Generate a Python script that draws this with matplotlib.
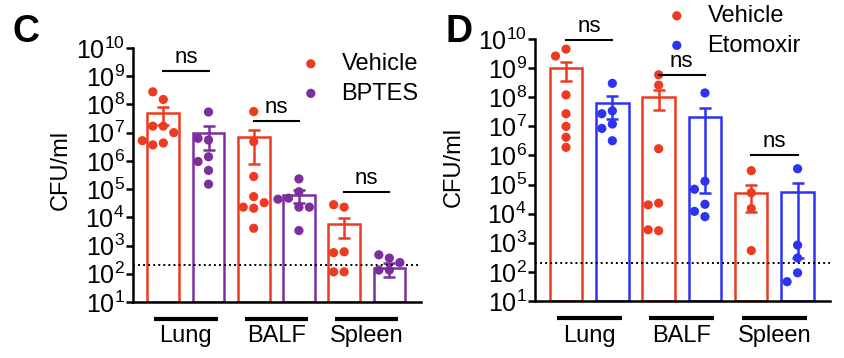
import numpy as np
import matplotlib
matplotlib.use('Agg')
import matplotlib.pyplot as plt
import matplotlib.transforms as mtransforms

plt.rcParams['font.family'] = ['Liberation Sans', 'DejaVu Sans']
plt.rcParams['mathtext.default'] = 'regular'

# ---- data (CFU/ml) ----
groups = ['Lung', 'BALF', 'Spleen']
detection_limit = 200

# panel C: Vehicle vs BPTES
c_vehicle_mean = [5.0e7, 6.8e6, 5.6e3]
c_vehicle_sem = [3.1e7, 6.0e6, 3.8e3]
c_bptes_mean = [1.0e7, 6.3e4, 155]
c_bptes_sem = [7.5e6, 3.2e4, 80]
c_vehicle_pts = [
    [1.5e8, 2.8e8, 1.7e7, 1.7e7, 1.0e7, 4.3e6, 3.7e6, 5.2e6],
    [5.6e7, 4.8e6, 2.8e5, 5.4e4, 2.1e4, 2.3e4, 3.3e4, 4.1e3],
    [2.3e4, 2.8e4, 600, 560, 117, 117],
]
c_bptes_pts = [
    [5.4e7, 5.5e6, 6.3e6, 1.4e6, 9.5e5, 4.6e5, 1.5e5],
    [2.3e5, 8.1e4, 4.8e4, 2.3e4, 2.3e4, 4.4e4, 3.4e3],
    [360, 470, 250, 135, 135],
]
c_ns_level = [1.5e9, 2.6e7, 8.0e4]

# panel D: Vehicle vs Etomoxir
d_vehicle_mean = [1.0e9, 1.05e8, 5.3e4]
d_vehicle_sem = [6.4e8, 7.0e7, 4.2e4]
d_etomoxir_mean = [6.3e7, 2.15e7, 5.6e4]
d_etomoxir_sem = [4.5e7, 2.145e7, 5.57e4]
d_vehicle_pts = [
    [4.5e9, 2.6e9, 1.2e8, 2.7e7, 1.0e7, 4.2e6, 1.9e6],
    [5.9e8, 2.6e8, 1.7e6, 2.3e4, 2.0e4, 2.6e3, 2.8e3],
    [3.0e5, 5.2e4, 1.5e4, 540],
]
d_etomoxir_pts = [
    [3.0e8, 3.4e7, 2.7e7, 1.2e7, 8.5e6, 3.2e6],
    [1.4e8, 1.3e5, 6.9e4, 2.1e4, 1.2e4, 7.9e3],
    [3.5e5, 830, 300, 93, 46],
]
d_ns_level = [9.3e9, 5.9e8, 1.05e6]

RED = '#EF3A22'
PURPLE = '#7D2E9E'
BLUE = '#2C33F2'

fig = plt.figure(figsize=(8.44, 3.58), dpi=100)


def swarm_x(ax, x0, vals, diam):
    # simple beeswarm: spread overlapping dots sideways (pixel space)
    pix = ax.transData.transform(np.column_stack([np.full(len(vals), x0), vals]))
    xc = pix[0, 0]
    placed = []
    for y in pix[:, 1]:
        for k in [0, -1, 1, -2, 2, -3, 3]:
            x = xc + k * diam
            if all((x - px) ** 2 + (y - py) ** 2 >= (diam * 0.9) ** 2 for px, py in placed):
                break
        placed.append((x, y))
    back = ax.transData.inverted().transform(np.array(placed))
    return back[:, 0]


def panel(rect, mean_a, sem_a, pts_a, col_a, lab_a,
          mean_b, sem_b, pts_b, col_b, lab_b, ns_level, leg_anchor):
    ax = fig.add_axes(rect)
    ax.set_yscale('log')
    ax.set_ylim(10, 1e10)
    ax.set_xlim(-0.67, 5.7)
    pos_a = np.arange(3) * 2
    pos_b = pos_a + 1
    w = 0.7
    for pos, mean, sem, col in [(pos_a, mean_a, sem_a, col_a), (pos_b, mean_b, sem_b, col_b)]:
        mean = np.array(mean)
        ax.bar(pos, mean - 10, bottom=10, width=w, facecolor='white',
               edgecolor=col, linewidth=1.8, zorder=2)
        ax.errorbar(pos, mean, yerr=np.array(sem), fmt='none', ecolor=col,
                    elinewidth=1.8, capsize=4.5, capthick=1.8, zorder=3)
    for pos, pts, col, lab in [(pos_a, pts_a, col_a, lab_a), (pos_b, pts_b, col_b, lab_b)]:
        for i in range(3):
            xs = swarm_x(ax, pos[i], pts[i], 10.5)
            ax.scatter(xs, pts[i], s=44, color=col, edgecolors='none', zorder=4,
                       clip_on=False, label=lab if i == 0 else None)
    ax.axhline(detection_limit, color='black', ls=(0, (1, 1.6)), lw=1.4, zorder=3.5)

    for s in ['top', 'right']:
        ax.spines[s].set_visible(False)
    for s in ['left', 'bottom']:
        ax.spines[s].set_linewidth(1.8)
    ax.set_yticks([10.0 ** k for k in range(1, 11)])
    ax.yaxis.set_minor_locator(matplotlib.ticker.NullLocator())
    ax.yaxis.set_major_formatter(matplotlib.ticker.FuncFormatter(
        lambda v, p: '$10^{%d}$' % round(np.log10(v))))
    ax.tick_params(axis='y', labelsize=18, width=1.8, length=5, pad=1)
    ax.set_xticks([])
    ax.set_ylabel('CFU/ml', fontsize=17)

    # significance brackets
    for i in range(3):
        ax.plot([pos_a[i], pos_b[i]], [ns_level[i]] * 2, color='black', lw=1.5,
                clip_on=False, zorder=5)
        ax.annotate('ns', ((pos_a[i] + pos_b[i]) / 2, ns_level[i]), xytext=(0, 2),
                    textcoords='offset points', ha='center', va='bottom',
                    fontsize=16, annotation_clip=False)

    # group labels under the axis
    tr = mtransforms.blended_transform_factory(ax.transData, ax.transAxes)
    for i, g in enumerate(groups):
        ax.plot([pos_a[i] - 0.2, pos_b[i] + 0.2], [-0.066, -0.066], color='black',
                lw=3, transform=tr, clip_on=False, solid_capstyle='butt')
        ax.text((pos_a[i] + pos_b[i]) / 2, -0.135, g, transform=tr, ha='center',
                va='center', fontsize=17)

    ax.legend(loc='upper left', bbox_to_anchor=leg_anchor,
              bbox_transform=fig.transFigure, frameon=False, fontsize=17,
              handlelength=1.0, handletextpad=0.8, labelspacing=0.32,
              borderpad=0, borderaxespad=0, scatterpoints=1)
    return ax


axC = panel([133 / 844, 1 - 302 / 358, 288 / 844, 254 / 358],
            c_vehicle_mean, c_vehicle_sem, c_vehicle_pts, RED, 'Vehicle',
            c_bptes_mean, c_bptes_sem, c_bptes_pts, PURPLE, 'BPTES',
            c_ns_level, (299 / 844, 1 - 53 / 358))
axC.yaxis.set_label_coords(-0.212, 0.52)

axD = panel([535 / 844, 1 - 301 / 358, 295 / 844, 262 / 358],
            d_vehicle_mean, d_vehicle_sem, d_vehicle_pts, RED, 'Vehicle',
            d_etomoxir_mean, d_etomoxir_sem, d_etomoxir_pts, BLUE, 'Etomoxir',
            d_ns_level, (665 / 844, 1 - 5 / 358))
axD.yaxis.set_label_coords(-0.237, 0.51)

fig.text(12 / 844, 1 - 42 / 358, 'C', fontsize=27, fontweight='bold', va='baseline')
fig.text(445 / 844, 1 - 42 / 358, 'D', fontsize=27, fontweight='bold', va='baseline')

fig.savefig('out.png', dpi=100)
